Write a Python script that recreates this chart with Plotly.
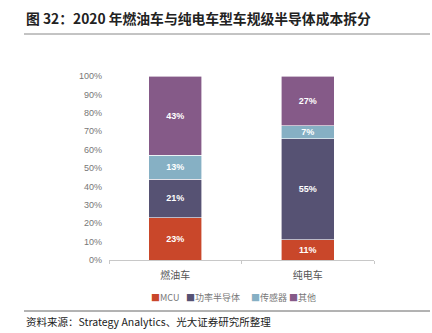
import plotly.graph_objects as go

# Vehicle types and semiconductor cost shares (%)
categories = ["燃油车", "纯电车"]
series_names = ["MCU", "功率半导体", "传感器", "其他"]
mcu = [23, 11]
power = [21, 55]
sensor = [13, 7]
other = [43, 27]
series_values = [mcu, power, sensor, other]
colors = ["#C9472A", "#565273", "#86B0C4", "#855A88"]
y_ticks = list(range(0, 101, 10))
y_tick_labels = [f"{v}%" for v in y_ticks]

W, H = 432, 333
L, R, T, B = 109, 58, 76, 73
pw, ph = W - L - R, H - T - B


def px_x(x):
    return (x - L) / pw


def px_y(y):
    return (H - B - y) / ph


fig = go.Figure()
for name, vals, col in zip(series_names, series_values, colors):
    fig.add_trace(go.Bar(
        name=name,
        x=categories,
        y=vals,
        marker=dict(color=col, line=dict(color="white", width=0.6)),
        text=[f"{v}%" for v in vals],
        textposition="inside",
        insidetextanchor="middle",
        textfont=dict(color="white", size=9, family="Liberation Sans"),
        texttemplate="<b>%{text}</b>",
        hoverinfo="skip",
        showlegend=False,
    ))

fig.update_layout(
    width=W, height=H,
    margin=dict(l=L, r=R, t=T, b=B, pad=0),
    barmode="stack",
    bargap=0.6,
    plot_bgcolor="white",
    paper_bgcolor="white",
    uniformtext=dict(minsize=8, mode="show"),
)

fig.update_xaxes(
    showline=True, linecolor="#c8c8c8", linewidth=1,
    ticks="outside", tickson="boundaries", ticklen=3, tickcolor="#c8c8c8",
    tickfont=dict(size=10, color="#555", family="Noto Sans CJK SC"),
    ticklabelstandoff=6,
    showgrid=False,
)
fig.update_yaxes(
    range=[0, 100],
    tickvals=y_ticks, ticktext=y_tick_labels,
    tickfont=dict(size=9, color="#777", family="Liberation Sans"),
    showgrid=False, showline=False, zeroline=False,
    ticks="", ticklabelstandoff=6,
)

# Legend row: colour square followed by series name
legend_x = [149, 184, 249, 287]
for name, col, lx in zip(series_names, colors, legend_x):
    fig.add_annotation(
        text=f"<span style='color:{col}'>■</span>{name}",
        xref="paper", yref="paper", x=px_x(lx), y=px_y(297),
        xanchor="left", yanchor="middle", showarrow=False,
        font=dict(size=9, color="#777", family="Noto Sans CJK SC"),
    )

# Title, source note and separator rules
fig.add_annotation(
    text="<b>图 32：2020 年燃油车与纯电车型车规级半导体成本拆分</b>",
    xref="paper", yref="paper", x=px_x(24), y=px_y(18),
    xanchor="left", yanchor="middle", showarrow=False,
    font=dict(size=13.8, color="#222", family="Noto Sans CJK SC"),
)
fig.add_annotation(
    text="资料来源：Strategy Analytics、光大证券研究所整理",
    xref="paper", yref="paper", x=px_x(24), y=px_y(321),
    xanchor="left", yanchor="middle", showarrow=False,
    font=dict(size=10.5, color="#222", family="Noto Sans CJK SC"),
)
for yy, col in [(34, "#888"), (311, "#666")]:
    fig.add_shape(
        type="line", xref="paper", yref="paper",
        x0=px_x(24), x1=px_x(430), y0=px_y(yy), y1=px_y(yy),
        line=dict(color=col, width=1),
    )

fig.write_html("out.html")
